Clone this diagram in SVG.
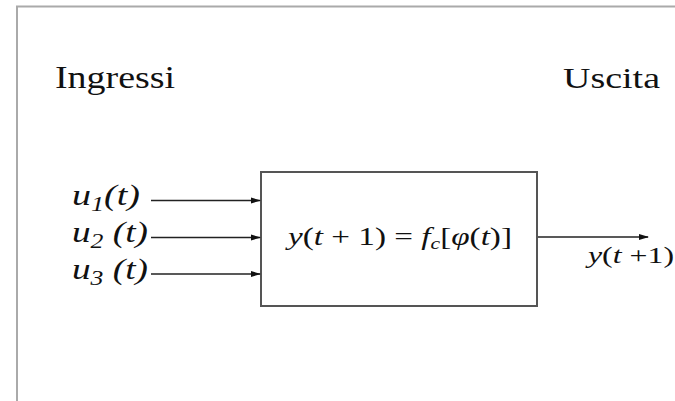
<svg xmlns="http://www.w3.org/2000/svg" width="675" height="401" viewBox="0 0 675 401">
<style>
text{font-family:'Liberation Serif','Times New Roman','DejaVu Serif',serif;fill:#111;}
.i{font-style:italic;}
.c{stroke:#222;stroke-width:1.5;fill:none;}
</style>
<defs>
<marker id="ah" markerWidth="10" markerHeight="8" refX="9" refY="4" orient="auto" markerUnits="userSpaceOnUse">
<path d="M0,1 L10,4 L0,7 Z" fill="#111"/>
</marker>
</defs>
<rect width="675" height="401" fill="#fff"/>
<path d="M17,401 V6.5 H675" stroke="#aaa" stroke-width="2" fill="none"/>
<text x="55" y="88" font-size="31" textLength="120" lengthAdjust="spacingAndGlyphs">Ingressi</text>
<text x="563" y="88" font-size="30" textLength="97" lengthAdjust="spacingAndGlyphs">Uscita</text>
<g id="inputs">
<text class="i" x="72" y="205" font-size="29" textLength="68" lengthAdjust="spacingAndGlyphs">u<tspan font-size="20" dy="6">1</tspan><tspan dy="-6">(t)</tspan></text>
<text class="i" x="72" y="242" font-size="29" textLength="76" lengthAdjust="spacingAndGlyphs">u<tspan font-size="20" dy="6">2</tspan><tspan dy="-6"> (t)</tspan></text>
<text class="i" x="72" y="279" font-size="29" textLength="76" lengthAdjust="spacingAndGlyphs">u<tspan font-size="20" dy="6">3</tspan><tspan dy="-6"> (t)</tspan></text>
</g>
<g id="block">
<rect x="261" y="172" width="276" height="134" fill="#fff" stroke="#555" stroke-width="2"/>
<text x="288" y="245" font-size="26" textLength="224" lengthAdjust="spacingAndGlyphs"><tspan class="i">y</tspan>(<tspan class="i">t</tspan> + 1) = <tspan class="i">f<tspan font-size="17" dy="4">c</tspan></tspan><tspan dy="-4">[</tspan><tspan class="i">φ</tspan>(<tspan class="i">t</tspan>)]</text>
</g>
<g id="output">
<text x="588" y="263" font-size="23" textLength="86" lengthAdjust="spacingAndGlyphs"><tspan class="i">y</tspan>(<tspan class="i">t</tspan> +1)</text>
</g>
<g id="connectors">
<line class="c" x1="151" y1="200.5" x2="260" y2="200.5" marker-end="url(#ah)"/>
<line class="c" x1="151" y1="237.5" x2="260" y2="237.5" marker-end="url(#ah)"/>
<line class="c" x1="151" y1="274" x2="260" y2="274" marker-end="url(#ah)"/>
<line class="c" x1="538" y1="237" x2="648" y2="237" marker-end="url(#ah)"/>
</g>
</svg>
